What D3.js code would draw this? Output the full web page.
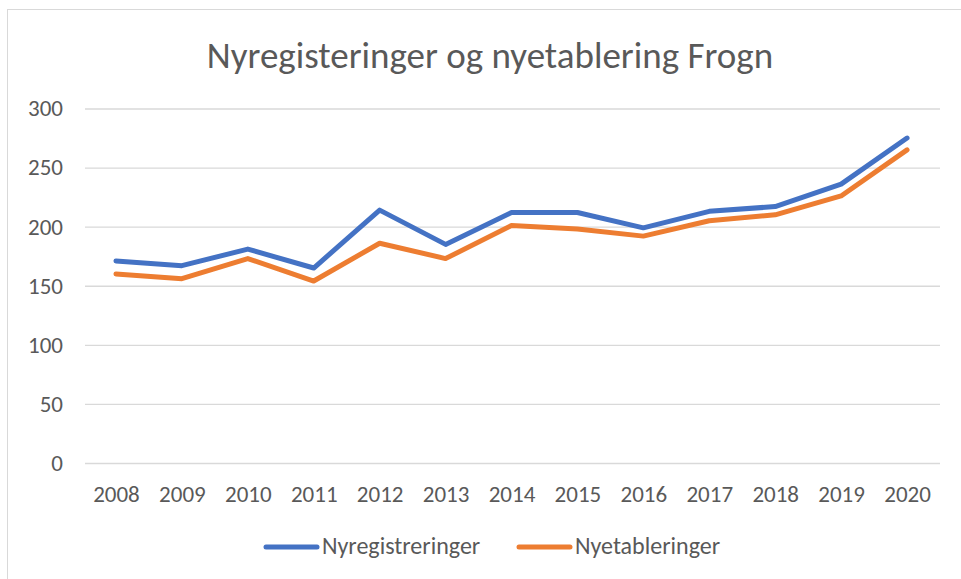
<!DOCTYPE html>
<html>
<head>
<meta charset="utf-8">
<script src="https://cdn.jsdelivr.net/npm/d3@7"></script>
<style>
  body { margin: 0; background: #fff; }
  text { font-family: Carlito, Calibri, "Liberation Sans Narrow", "Open Sans", sans-serif; fill: #595959; }
</style>
</head>
<body>
<div id="chart"></div>
<script>
// data
const years = ["2008", "2009", "2010", "2011", "2012", "2013", "2014", "2015", "2016", "2017", "2018", "2019", "2020"];
const nyregistreringer = [171, 167, 181, 165, 214, 185, 212, 212, 199, 213, 217, 236, 275];
const nyetableringer = [160, 156, 173, 154, 186, 173, 201, 198, 192, 205, 210, 226, 265];
const yTicks = [0, 50, 100, 150, 200, 250, 300];

const series = [
    { name: "Nyregistreringer", values: nyregistreringer, color: "#4472C4" },
    { name: "Nyetableringer", values: nyetableringer, color: "#ED7D31" }
];

var width = 961;
var height = 579;

let svg = d3.select('#chart')
    .append('svg')
    .attr('width', width)
    .attr('height', height)

// chart frame
svg.append('rect')
    .attr('x', 7.5)
    .attr('y', 9.5)
    .attr('width', 990)
    .attr('height', 600)
    .attr('fill', 'none')
    .attr('stroke', '#d9d9d9')

svg.append('text')
    .attr('x', 490)
    .attr('y', 68)
    .attr('text-anchor', 'middle')
    .style('font-size', '37px')
    .text('Nyregisteringer og nyetablering Frogn')

const x = d3.scalePoint()
    .domain(years)
    .range([83, 940])
    .padding(0.5)

const y = d3.scaleLinear()
    .domain([0, 300])
    .range([463, 108.5])

// gridlines + y labels
const yAxis = d3.axisLeft(y)
    .tickValues(yTicks)
    .tickSize(-855)
    .tickPadding(22)

svg.append('g')
    .attr('transform', 'translate(85,0)')
    .call(yAxis)
    .call(g => g.select('.domain').remove())
    .call(g => g.selectAll('line').attr('stroke', '#d9d9d9').attr('stroke-width', 1.3))
    .call(g => g.selectAll('text').style('font-size', '23px').attr('fill', '#595959'))

const xAxis = d3.axisBottom(x)
    .tickSize(0)
    .tickPadding(23)

svg.append('g')
    .attr('transform', 'translate(0,463)')
    .call(xAxis)
    .call(g => g.select('.domain').remove())
    .call(g => g.selectAll('text').style('font-size', '23px').attr('fill', '#595959'))

const line = d3.line()
    .x((d, i) => x(years[i]))
    .y(d => y(d))

svg.selectAll('.series')
    .data(series)
    .enter()
    .append('path')
    .attr('class', 'series')
    .attr('d', d => line(d.values))
    .attr('fill', 'none')
    .attr('stroke', d => d.color)
    .attr('stroke-width', 5)
    .attr('stroke-linecap', 'round')
    .attr('stroke-linejoin', 'round')

// legend
const legendX = [264, 517];
const legend = svg.selectAll('.legend')
    .data(series)
    .enter()
    .append('g')
    .attr('class', 'legend')
    .attr('transform', (d, i) => 'translate(' + legendX[i] + ',547)')

legend.append('line')
    .attr('x1', 2)
    .attr('x2', 53)
    .attr('stroke', d => d.color)
    .attr('stroke-width', 5)
    .attr('stroke-linecap', 'round')

legend.append('text')
    .attr('x', 58)
    .attr('y', 7)
    .style('font-size', '24px')
    .text(d => d.name)
</script>
</body>
</html>
